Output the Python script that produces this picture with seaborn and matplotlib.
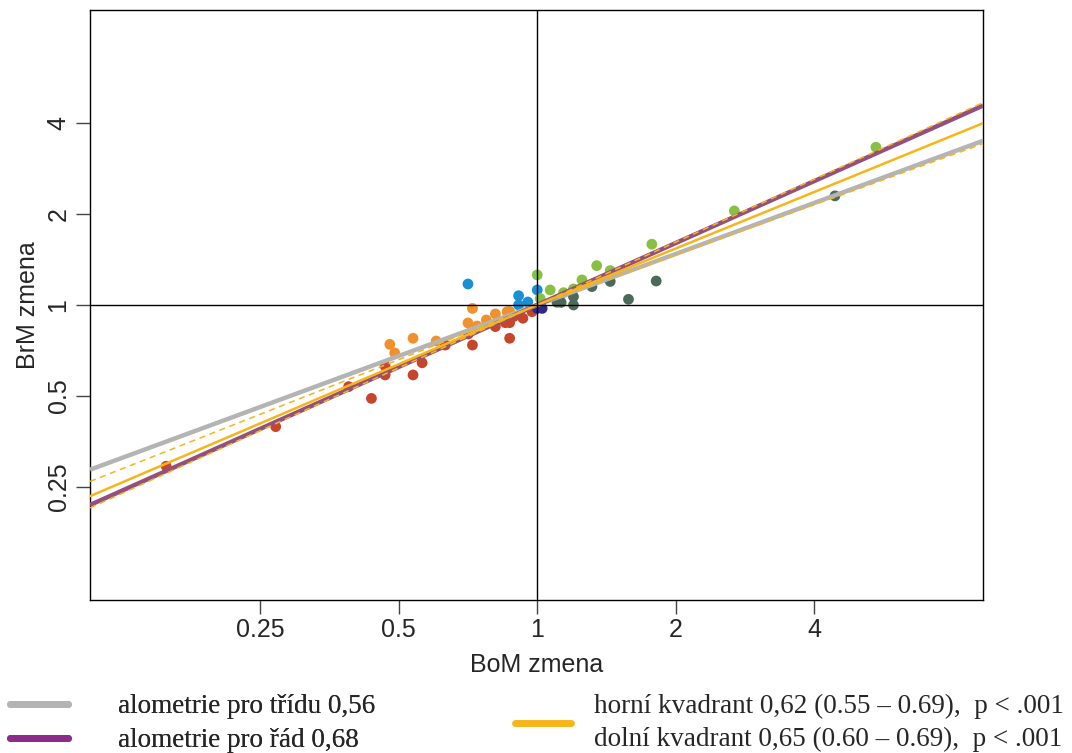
import numpy as np
import pandas as pd
import matplotlib
matplotlib.use("Agg")
import matplotlib.pyplot as plt
from matplotlib.lines import Line2D
from matplotlib.ticker import FixedLocator, FixedFormatter, NullLocator
import seaborn as sns

# --- data: relative change in body mass (BoM) and brain mass (BrM) ---
red_bom = [0.156, 0.270, 0.389, 0.436, 0.467, 0.467, 0.537, 0.562, 0.631, 0.723,
           0.708, 0.811, 0.852, 0.871, 0.871, 0.931, 0.974, 0.888]
red_brm = [0.293, 0.396, 0.537, 0.491, 0.628, 0.587, 0.587, 0.644, 0.737, 0.737,
           0.802, 0.848, 0.874, 0.874, 0.776, 0.904, 0.950, 0.915]

orange_bom = [0.478, 0.490, 0.537, 0.603, 0.707, 0.723, 0.740, 0.775, 0.811, 0.871, 0.860]
orange_brm = [0.741, 0.694, 0.776, 0.760, 0.872, 0.974, 0.852, 0.892, 0.934, 0.952, 0.950]

blue_bom = [0.707, 0.911, 0.911, 0.954, 1.000]
blue_brm = [1.173, 1.073, 1.000, 1.023, 1.121]

navy_bom = [1.000, 1.025]
navy_brm = [0.974, 0.974]

lgreen_bom = [1.000, 1.015, 1.067, 1.141, 1.199, 1.251, 1.347, 1.441, 1.775, 2.683, 5.45]
lgreen_brm = [1.257, 1.050, 1.121, 1.098, 1.130, 1.210, 1.349, 1.299, 1.588, 2.046, 3.324]

dgreen_bom = [1.104, 1.127, 1.199, 1.199, 1.315, 1.441, 1.579, 1.814, 4.44]
dgreen_brm = [1.021, 1.020, 1.065, 1.000, 1.150, 1.196, 1.044, 1.200, 2.294]

# allometric slopes (log-log), all lines pass through (1, 1)
slope_class = 0.56
slope_order = 0.68
upper_fit, upper_lo, upper_hi = 0.62, 0.55, 0.69
lower_fit, lower_lo, lower_hi = 0.65, 0.60, 0.69

tick_values = [0.25, 0.5, 1, 2, 4]
tick_labels = ["0.25", "0.5", "1", "2", "4"]

legend_labels = [
    "alometrie pro třídu 0,56",
    "alometrie pro řád 0,68",
    "horní kvadrant 0,62 (0.55 – 0.69),  p < .001\n"
    "dolní kvadrant 0,65 (0.60 – 0.69),  p < .001",
]

groups = {
    "red": (red_bom, red_brm, "#c6452c"),
    "orange": (orange_bom, orange_brm, "#f0912b"),
    "blue": (blue_bom, blue_brm, "#1b8fd3"),
    "lgreen": (lgreen_bom, lgreen_brm, "#88c043"),
    "dgreen": (dgreen_bom, dgreen_brm, "#4b6a5b"),
    "navy": (navy_bom, navy_brm, "#2d2a8c"),
}
frames = []
for name, (bx, by, _) in groups.items():
    frames.append(pd.DataFrame({"BoM": bx, "BrM": by, "grp": name}))
df = pd.concat(frames, ignore_index=True)
palette = {k: v[2] for k, v in groups.items()}

sns.set_style("white")
plt.rcParams["font.family"] = ["Liberation Sans", "DejaVu Sans"]

fig = plt.figure(figsize=(10.72, 7.53), dpi=100)
ax = fig.add_axes([0.084, 0.2032, 0.833, 0.7836])

xlim = (2 ** -3.23, 2 ** 3.22)
ylim = (2 ** -3.24, 2 ** 3.24)

sns.scatterplot(data=df, x="BoM", y="BrM", hue="grp", palette=palette,
                s=60, edgecolor="none", legend=False, ax=ax, zorder=2)

ax.set_xscale("log", base=2)
ax.set_yscale("log", base=2)

gray = "#b4b4b4"
purple = "#8c2b8c"
yellow = "#f7b51a"

xs = np.geomspace(xlim[0], xlim[1], 200)
x_lo = np.geomspace(xlim[0], 1, 100)
x_hi = np.geomspace(1, xlim[1], 100)

ax.plot(xs, xs ** slope_class, color=gray, lw=3.2, zorder=3, solid_capstyle="butt")
ax.plot(xs, xs ** slope_order, color="#93507f", lw=3.2, zorder=3, solid_capstyle="butt")
ax.plot(x_hi, x_hi ** upper_fit, color=yellow, lw=1.8, zorder=4)
ax.plot(x_lo, x_lo ** lower_fit, color=yellow, lw=1.8, zorder=4)
for b in (upper_lo, upper_hi):
    ax.plot(x_hi, x_hi ** b, color=yellow, lw=1.1, ls=(0, (4, 3)), zorder=4)
for b in (lower_lo, lower_hi):
    ax.plot(x_lo, x_lo ** b, color=yellow, lw=1.1, ls=(0, (4, 3)), zorder=4)

ax.axvline(1, color="black", lw=1.0, zorder=5)
ax.axhline(1, color="black", lw=1.0, zorder=5)

ax.set_xlim(*xlim)
ax.set_ylim(*ylim)

for axis in (ax.xaxis, ax.yaxis):
    axis.set_major_locator(FixedLocator(tick_values))
    axis.set_major_formatter(FixedFormatter(tick_labels))
    axis.set_minor_locator(NullLocator())

ax.tick_params(axis="both", which="major", direction="out", length=10, width=1,
               color="#444444", labelsize=18, bottom=True, left=True)
ax.tick_params(axis="x", pad=3)
ax.tick_params(axis="y", pad=4)
for lab in ax.get_yticklabels():
    lab.set_rotation(90)
    lab.set_va("center")

for sp in ax.spines.values():
    sp.set_color("black")
    sp.set_linewidth(1.0)

ax.set_xlabel("BoM zmena", fontsize=18, labelpad=8)
ax.set_ylabel("BrM zmena", fontsize=18, labelpad=5)

# legend along the bottom
serif = ["Liberation Serif", "DejaVu Serif"]
fs = 19.5
left_handles = [Line2D([], [], color=gray, lw=5),
                Line2D([], [], color=purple, lw=5)]
leg1 = fig.legend(left_handles, legend_labels[:2], loc="upper left",
                  bbox_to_anchor=(0.009, 0.078), frameon=False,
                  prop={"family": serif, "size": fs}, handlelength=2.15,
                  handletextpad=1.85, labelspacing=0.33, borderaxespad=0,
                  borderpad=0)
fig.add_artist(leg1)
leg2 = fig.legend([Line2D([], [], color=yellow, lw=5)], [legend_labels[2]],
                  loc="upper left", bbox_to_anchor=(0.480, 0.078), frameon=False,
                  prop={"family": serif, "size": fs}, handlelength=2.1,
                  handletextpad=0.85, borderaxespad=0, borderpad=0)
for t in leg2.get_texts():
    t.set_linespacing(1.38)

fig.savefig("out.png", dpi=100)
